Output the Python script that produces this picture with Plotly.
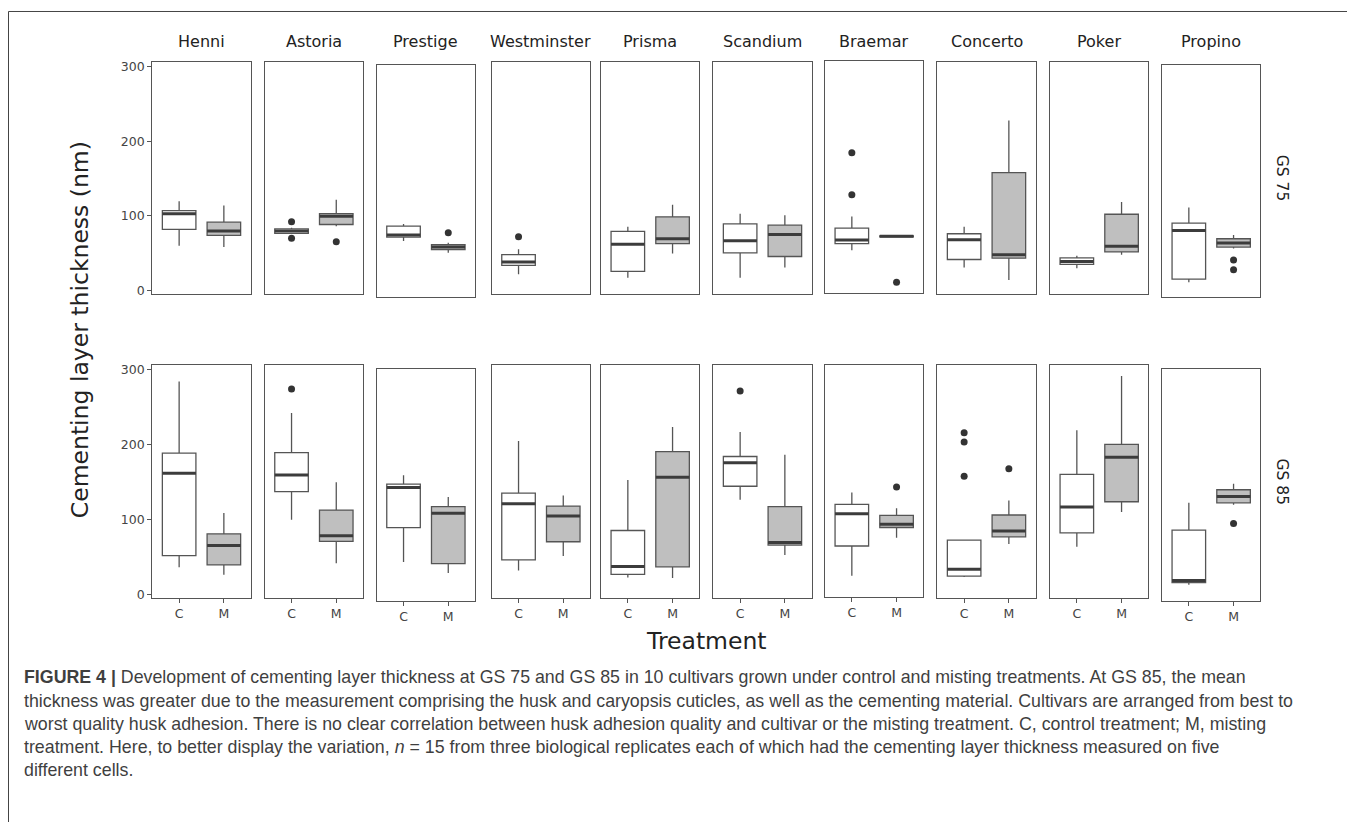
import plotly.graph_objects as go

# ---------------- data ----------------
cultivars = ["Henni", "Astoria", "Prestige", "Westminster", "Prisma",
             "Scandium", "Braemar", "Concerto", "Poker", "Propino"]
treatments = ["C", "M"]
stages = ["GS 75", "GS 85"]
y_ticks = [0, 100, 200, 300]

# GS 75 - control
gs75_c_lower = [60, 78, 71, 22, 17, 17, 53, 31, 30, 15.5]
gs75_c_q1 = [82, 76.5, 76, 33.6, 25.7, 50.4, 62, 41.6, 35, 19.9]
gs75_c_median = [102.7, 79.6, 78.8, 38.1, 62, 66.8, 66.8, 68.1, 38.9, 85]
gs75_c_q3 = [107, 82.7, 90.7, 48.2, 79.2, 89.4, 82.7, 76.1, 43.8, 94.7]
gs75_c_upper = [119.5, 84, 93.8, 55.3, 85.4, 103, 98.2, 85.4, 46.5, 115.9]
gs75_c_outliers = [[], [92, 70], [], [72], [], [], [183.6, 127.4], [], [], []]

# GS 75 - misting (Westminster has no misting data at GS 75)
gs75_m_lower = [58.4, 86, 55.3, None, 49.6, 31, 71, 14.2, 47.8, 61]
gs75_m_q1 = [73.9, 88.5, 59.3, None, 62.8, 45.6, 71, 43.4, 51.8, 62.8]
gs75_m_median = [79.6, 99.6, 62.8, None, 69.5, 75.2, 71.7, 47.8, 59.3, 68.1]
gs75_m_q3 = [91.6, 103, 65.9, None, 98.7, 87.6, 72.3, 158, 102.2, 73.9]
gs75_m_upper = [114, 121.7, 68.6, None, 115, 100.9, 72.3, 227.9, 118.6, 78.8]
gs75_m_outliers = [[], [65.5], [81.9], [], [], [], [10.2], [], [], [45.6, 32.3]]

# GS 85 - control
gs85_c_lower = [36.6, 100.1, 48.1, 32.2, 22.9, 126.6, 24.3, 23.4, 64, 17.6]
gs85_c_q1 = [52.1, 137.6, 94, 46.3, 26.9, 144.7, 64, 24.7, 82.5, 20.7]
gs85_c_median = [161.9, 159.7, 147.5, 121.3, 37.5, 176, 107.2, 34, 116.9, 23.5]
gs85_c_q3 = [188.8, 189.7, 152, 135.4, 85.6, 184.4, 119.6, 72.8, 160.6, 90.5]
gs85_c_upper = [284.6, 242.6, 164, 205.1, 153.1, 217, 135.4, 72.8, 219.3, 127]
gs85_c_outliers = [[], [274.4], [], [], [], [271.8], [], [216.2, 203.8, 157.9], [], []]

# GS 85 - misting
gs85_m_lower = [26.5, 41.9, 33.5, 51.6, 22.1, 52.9, 75, 67.5, 110.3, 124.5]
gs85_m_q1 = [39.7, 71, 46, 70.6, 37.1, 66.2, 88.7, 77.2, 124, 127]
gs85_m_median = [65.7, 78.5, 113, 105, 156.6, 69.7, 93.1, 85.1, 183.5, 135.5]
gs85_m_q3 = [81.2, 112.9, 122, 118.2, 191, 117.4, 105, 106.3, 200.7, 144.5]
gs85_m_upper = [109, 150, 135, 132.4, 223.7, 186.6, 114.3, 125.7, 292, 152.5]
gs85_m_outliers = [[], [], [], [], [], [], [142.9], [168.2], [], [99.5]]

caption_lines = [
    "<b>FIGURE 4 |</b> Development of cementing layer thickness at GS 75 and GS 85 in 10 cultivars grown under control and misting treatments. At GS 85, the mean",
    "thickness was greater due to the measurement comprising the husk and caryopsis cuticles, as well as the cementing material. Cultivars are arranged from best to",
    "worst quality husk adhesion. There is no clear correlation between husk adhesion quality and cultivar or the misting treatment. C, control treatment; M, misting",
    "treatment. Here, to better display the variation, <i>n</i> = 15 from three biological replicates each of which had the cementing layer thickness measured on five",
    "different cells.",
]

# ---------------- layout geometry (screen pixels) ----------------
OFF = 8                       # page body margin
FW, FH = 1347, 814            # figure size so that the page fills 1355 x 822


def px(sx):
    return (sx - OFF) / FW


def py(sy):
    return 1 - (sy - OFF) / FH


panel_left = [152.3, 264.7, 376.7, 491.7, 601.0, 713.3, 825.0, 937.3, 1050.0, 1162.0]
panel_w = 98.4
panel_dy = [0, 0, 3.4, 0, 0, 0, -0.7, 0, 0, 3.4]
row_top = [59.5, 365.5]
row_bottom = [293.0, 599.7]
y_range = [-4, 306]
x_range = [-0.6, 1.6]
box_w = 0.75

FONT = "DejaVu Sans"
EDGE = "#555555"
MED = "#3c3c3c"
FILL = {"C": "#ffffff", "M": "#bfbfbf"}

stats = {
    ("GS 75", "C"): (gs75_c_lower, gs75_c_q1, gs75_c_median, gs75_c_q3, gs75_c_upper, gs75_c_outliers),
    ("GS 75", "M"): (gs75_m_lower, gs75_m_q1, gs75_m_median, gs75_m_q3, gs75_m_upper, gs75_m_outliers),
    ("GS 85", "C"): (gs85_c_lower, gs85_c_q1, gs85_c_median, gs85_c_q3, gs85_c_upper, gs85_c_outliers),
    ("GS 85", "M"): (gs85_m_lower, gs85_m_q1, gs85_m_median, gs85_m_q3, gs85_m_upper, gs85_m_outliers),
}

fig = go.Figure()
layout = {}
annotations = []

idx = 0
for r, stage in enumerate(stages):
    for c, cv in enumerate(cultivars):
        idx += 1
        sfx = "" if idx == 1 else str(idx)
        xa, ya = "x" + sfx, "y" + sfx
        left = panel_left[c]
        top = row_top[r] + panel_dy[c]
        bot = row_bottom[r] + panel_dy[c]
        layout["xaxis" + sfx] = dict(
            domain=[px(left), px(left + panel_w)], anchor=ya,
            range=x_range, tickvals=[0, 1], ticktext=treatments,
            showline=True, mirror=True, linecolor=EDGE, linewidth=1.3,
            showgrid=False, zeroline=False,
            ticks="outside" if r == 1 else "", ticklen=4, tickcolor=EDGE,
            showticklabels=(r == 1),
            tickfont=dict(family=FONT, size=12.5, color="#444444"),
        )
        layout["yaxis" + sfx] = dict(
            domain=[py(bot), py(top)], anchor=xa,
            range=y_range, tickvals=y_ticks,
            showline=True, mirror=True, linecolor=EDGE, linewidth=1.3,
            showgrid=False, zeroline=False,
            ticks="outside" if c == 0 else "", ticklen=4, tickcolor=EDGE,
            showticklabels=(c == 0),
            tickfont=dict(family=FONT, size=12.5, color="#444444"),
        )
        for t_i, tr in enumerate(treatments):
            lo, q1, med, q3, up, outl = stats[(stage, tr)]
            if med[c] is not None:
                fig.add_trace(go.Box(
                    x=[t_i], lowerfence=[lo[c]], q1=[q1[c]], median=[med[c]],
                    q3=[q3[c]], upperfence=[up[c]], width=box_w,
                    fillcolor=FILL[tr], line=dict(color=EDGE, width=1.3),
                    whiskerwidth=0, boxpoints=False, showlegend=False,
                    xaxis=xa, yaxis=ya, hoverinfo="skip",
                ))
                fig.add_trace(go.Scatter(
                    x=[t_i - box_w / 2, t_i + box_w / 2], y=[med[c], med[c]],
                    mode="lines", line=dict(color=MED, width=3),
                    showlegend=False, xaxis=xa, yaxis=ya, hoverinfo="skip",
                ))
            if outl[c]:
                fig.add_trace(go.Scatter(
                    x=[t_i] * len(outl[c]), y=outl[c], mode="markers",
                    marker=dict(color="#333333", size=7),
                    showlegend=False, xaxis=xa, yaxis=ya, hoverinfo="skip",
                ))
        if r == 0:
            annotations.append(dict(
                x=px(left + panel_w / 2), y=py(39), xref="paper", yref="paper",
                text=cv, showarrow=False, xanchor="center", yanchor="middle",
                font=dict(family=FONT, size=16, color="#222222"),
            ))

# facet row labels
for r, stage in enumerate(stages):
    annotations.append(dict(
        x=px(1282), y=py((row_top[r] + row_bottom[r]) / 2),
        xref="paper", yref="paper", text=stage, showarrow=False, textangle=90,
        xanchor="center", yanchor="middle",
        font=dict(family=FONT, size=15.5, color="#222222"),
    ))

# axis titles
annotations.append(dict(
    x=px(80), y=py(330), xref="paper", yref="paper",
    text="Cementing layer thickness (nm)", showarrow=False, textangle=-90,
    xanchor="center", yanchor="middle",
    font=dict(family=FONT, size=23.5, color="#222222"),
))
annotations.append(dict(
    x=px(706), y=py(643), xref="paper", yref="paper",
    text="Treatment", showarrow=False, xanchor="center", yanchor="middle",
    font=dict(family=FONT, size=23.5, color="#222222"),
))

# caption
cap_y = [680, 703.5, 727, 750.5, 774]
for line, yy in zip(caption_lines, cap_y):
    annotations.append(dict(
        x=px(22), y=py(yy), xref="paper", yref="paper",
        text=line, showarrow=False, xanchor="left", yanchor="middle",
        font=dict(family="Liberation Sans, Arial", size=17.8, color="#3f3f3f"),
    ))

shapes = [dict(type="rect", xref="paper", yref="paper",
               x0=px(8.5), x1=1.05, y0=-0.05, y1=py(8.5),
               line=dict(color="#444444", width=1))]

fig.update_layout(
    width=FW, height=FH, margin=dict(l=0, r=0, t=0, b=0),
    paper_bgcolor="white", plot_bgcolor="white",
    annotations=annotations, shapes=shapes, showlegend=False,
    **layout,
)
fig.write_html("out.html")
